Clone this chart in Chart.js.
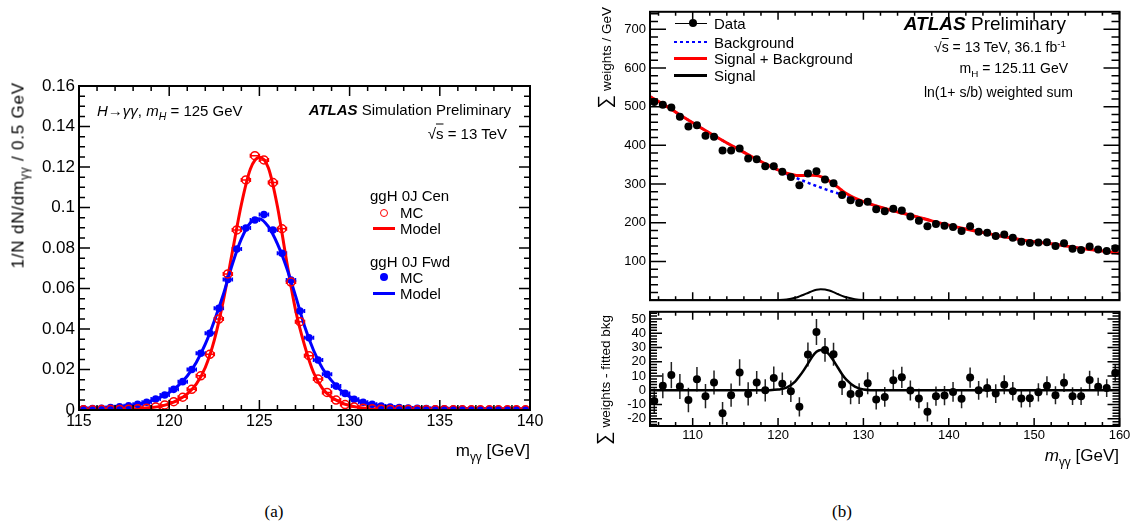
<!DOCTYPE html>
<html>
<head>
<meta charset="utf-8">
<title>H to diphoton mass shapes</title>
<script src="https://cdn.jsdelivr.net/npm/chart.js@4.4.1/dist/chart.umd.min.js"></script>
<style>
  body { margin: 0; background: #fff; }
  #page { position: relative; width: 1134px; height: 530px; overflow: hidden; font-family: "Liberation Sans", Arial, sans-serif; color: #000; }
  canvas { position: absolute; }
  .t { position: absolute; white-space: nowrap; line-height: 1; }
  .l { transform: translate(0, -50%); }
  .r { transform: translate(-100%, -50%); }
  .c { transform: translate(-50%, -50%); }
  .rot { transform-origin: 0 0; transform: rotate(-90deg) translate(-100%, -50%); }
  .sub { font-size: 70%; position: relative; top: 0.4em; }
  .sup { font-size: 70%; position: relative; top: -0.5em; }
  .ov { text-decoration: overline; }
  .sym { position: absolute; }
</style>
</head>
<body>
<div id="page">
  <canvas id="chartA" width="567" height="480" style="left:0;top:0"></canvas>
  <canvas id="chartTop" width="567" height="312" style="left:567px;top:0"></canvas>
  <canvas id="chartBottom" width="567" height="180" style="left:567px;top:300px"></canvas>

  <!-- panel (a) texts -->
  <div class="t l" style="left:97px;top:110px;font-size:15px"><i>H</i>&rarr;<i>&gamma;&gamma;</i>, <i>m<span class="sub">H</span></i> = 125 GeV</div>
  <div class="t r" style="left:511px;top:109px;font-size:15px"><b><i>ATLAS</i></b> Simulation Preliminary</div>
  <div class="t r" style="left:507px;top:133px;font-size:15px">&radic;<span class="ov">s</span> = 13 TeV</div>

  <div class="t l" style="left:370px;top:195px;font-size:15px">ggH 0J Cen</div>
  <div class="sym" style="left:379.5px;top:208.5px;width:6px;height:6px;border:1.5px solid #f00;border-radius:50%"></div>
  <div class="t l" style="left:400px;top:212px;font-size:15px">MC</div>
  <div class="sym" style="left:373px;top:226.5px;width:22px;height:3px;background:#f00"></div>
  <div class="t l" style="left:400px;top:228px;font-size:15px">Model</div>

  <div class="t l" style="left:370px;top:261px;font-size:15px">ggH 0J Fwd</div>
  <div class="sym" style="left:380px;top:273px;width:8px;height:8px;background:#00f;border-radius:50%"></div>
  <div class="t l" style="left:400px;top:277px;font-size:15px">MC</div>
  <div class="sym" style="left:373px;top:291.5px;width:22px;height:3px;background:#00f"></div>
  <div class="t l" style="left:400px;top:293px;font-size:15px">Model</div>

  <div class="t r" style="left:530px;top:450px;font-size:17px">m<span class="sub">&gamma;&gamma;</span> [GeV]</div>
  <div class="t rot" style="left:18px;top:82px;font-size:17px;letter-spacing:0.8px">1/N dN/dm<span class="sub">&gamma;&gamma;</span> / 0.5 GeV</div>

  <!-- panel (b) texts -->
  <div class="sym" style="left:675px;top:22.5px;width:32px;height:1.5px;background:#000"></div>
  <div class="sym" style="left:689px;top:19.3px;width:8px;height:8px;background:#000;border-radius:50%"></div>
  <div class="t l" style="left:714px;top:23px;font-size:15px">Data</div>
  <div class="sym" style="left:674px;top:40.5px;width:33px;height:2.5px;background:repeating-linear-gradient(to right,#00f 0 3px,transparent 3px 6px)"></div>
  <div class="t l" style="left:714px;top:41.5px;font-size:15px">Background</div>
  <div class="sym" style="left:674px;top:57px;width:33px;height:3px;background:#f00"></div>
  <div class="t l" style="left:714px;top:58px;font-size:15px">Signal + Background</div>
  <div class="sym" style="left:674px;top:74px;width:33px;height:2.5px;background:#000"></div>
  <div class="t l" style="left:714px;top:75px;font-size:15px">Signal</div>

  <div class="t r" style="left:1066px;top:23px;font-size:19px"><b><i>ATLAS</i></b> Preliminary</div>
  <div class="t r" style="left:1066px;top:47px;font-size:14px">&radic;<span class="ov">s</span> = 13 TeV, 36.1 fb<span class="sup">-1</span></div>
  <div class="t r" style="left:1068px;top:68px;font-size:14px">m<span class="sub">H</span> = 125.11 GeV</div>
  <div class="t r" style="left:1073px;top:92px;font-size:14px">ln(1+ s/b) weighted sum</div>

  <div class="t rot" style="left:604px;top:7px;font-size:13.5px"><span style="font-size:19px">&sum;</span> weights / GeV</div>
  <div class="t rot" style="left:603px;top:315px;font-size:13.5px"><span style="font-size:19px">&sum;</span> weights - fitted bkg</div>
  <div class="t r" style="left:1119px;top:455px;font-size:17px"><i>m</i><span class="sub">&gamma;&gamma;</span> [GeV]</div>

  <div class="t c" style="left:274px;top:511px;font-size:17px;font-family:'Liberation Serif',serif">(a)</div>
  <div class="t c" style="left:842px;top:511px;font-size:17px;font-family:'Liberation Serif',serif">(b)</div>
</div>

<script>
// ---- panel (a): normalised m_yy shapes in 0.5 GeV bins ----
const massBinsA = [
    115.25, 115.75, 116.25, 116.75, 117.25, 117.75, 118.25, 118.75, 119.25, 119.75,
    120.25, 120.75, 121.25, 121.75, 122.25, 122.75, 123.25, 123.75, 124.25, 124.75,
    125.25, 125.75, 126.25, 126.75, 127.25, 127.75, 128.25, 128.75, 129.25, 129.75,
    130.25, 130.75, 131.25, 131.75, 132.25, 132.75, 133.25, 133.75, 134.25, 134.75,
    135.25, 135.75, 136.25, 136.75, 137.25, 137.75, 138.25, 138.75, 139.25, 139.75,
]
const cenMC = [
    0.0001, 0.0001, 0.0002, 0.0002, 0.0003, 0.0004, 0.0006, 0.0009, 0.0015, 0.0025,
    0.0041, 0.0063, 0.0102, 0.0169, 0.0275, 0.0449, 0.0672, 0.0889, 0.1136, 0.1256,
    0.1235, 0.1123, 0.0895, 0.0632, 0.0436, 0.0268, 0.0153, 0.0087, 0.0049, 0.0027,
    0.0015, 0.0009, 0.0006, 0.0004, 0.0003, 0.0002, 0.0002, 0.0001, 0.0001, 0.0001,
    0.0001, 0.0001, 0.0001, 0.0001, 0.0001, 0.0001, 0.0001, 0.0001, 0.0001, 0.0001,
]
const fwdMC = [
    0.0006, 0.0007, 0.0009, 0.0012, 0.0016, 0.0021, 0.0028, 0.0038, 0.0054, 0.0074,
    0.0102, 0.014, 0.02, 0.028, 0.0379, 0.0502, 0.0645, 0.0795, 0.0899, 0.0938,
    0.0965, 0.0889, 0.0774, 0.0642, 0.0489, 0.0357, 0.0247, 0.0176, 0.0118, 0.0082,
    0.0053, 0.0038, 0.0028, 0.002, 0.0015, 0.0012, 0.001, 0.0008, 0.0007, 0.0006,
    0.0006, 0.0005, 0.0005, 0.0004, 0.0004, 0.0004, 0.0003, 0.0003, 0.0003, 0.0003,
]
const modelMassA = [
    115, 116, 117, 118, 119, 119.5, 120, 120.5, 121, 121.5, 122, 122.5, 123, 123.5, 124, 124.5,
    125, 125.5, 126, 126.5, 127, 127.5, 128, 128.5, 129, 129.5, 130, 130.5, 131, 132, 133, 134, 136, 138, 140,
]
const cenModel = [
    0.0001, 0.0002, 0.0003, 0.0005, 0.0012, 0.0018, 0.003, 0.005, 0.008, 0.0128, 0.021, 0.0345, 0.054, 0.078, 0.1015, 0.119,
    0.1248, 0.1195, 0.1005, 0.074, 0.0495, 0.032, 0.0185, 0.0105, 0.0063, 0.0038, 0.0022, 0.0013, 0.0008, 0.0004, 0.0003, 0.0002, 0.0001, 0.0001, 0.0001,
]
const fwdModel = [
    0.0005, 0.0008, 0.0013, 0.0023, 0.0045, 0.0062, 0.0086, 0.012, 0.0168, 0.0235, 0.0325, 0.044, 0.057, 0.072, 0.0845, 0.0925,
    0.0945, 0.0905, 0.082, 0.0705, 0.0565, 0.0415, 0.0295, 0.0205, 0.0145, 0.0098, 0.0066, 0.0046, 0.0032, 0.0018, 0.0011, 0.0008, 0.0005, 0.0004, 0.0003,
]
const xTicksA = [115, 120, 125, 130, 135, 140]
const yTicksA = [0, 0.02, 0.04, 0.06, 0.08, 0.1, 0.12, 0.14, 0.16]
const yLabelsA = ["0", "0.02", "0.04", "0.06", "0.08", "0.1", "0.12", "0.14", "0.16"]

// ---- panel (b): weighted data, 1 GeV bins ----
const massBinsB = [
    105.5, 106.5, 107.5, 108.5, 109.5, 110.5, 111.5, 112.5, 113.5, 114.5,
    115.5, 116.5, 117.5, 118.5, 119.5, 120.5, 121.5, 122.5, 123.5, 124.5,
    125.5, 126.5, 127.5, 128.5, 129.5, 130.5, 131.5, 132.5, 133.5, 134.5,
    135.5, 136.5, 137.5, 138.5, 139.5, 140.5, 141.5, 142.5, 143.5, 144.5,
    145.5, 146.5, 147.5, 148.5, 149.5, 150.5, 151.5, 152.5, 153.5, 154.5,
    155.5, 156.5, 157.5, 158.5, 159.5,
]
const dataB = [
    512, 505, 498, 474, 449, 452, 425, 422, 387, 387,
    392, 366, 364, 346, 346, 332, 318, 297, 327, 333,
    312, 302, 272, 258, 251, 254, 235, 230, 236, 232,
    216, 205, 191, 197, 192, 189, 179, 191, 177, 174,
    166, 170, 161, 151, 148, 149, 150, 140, 147, 133,
    130, 139, 131, 127, 134,
]
const residB = [
    -7.5, 3.2, 10.7, 2.7, -6.8, 7.7, -4.1, 5.5, -16, -3.4,
    12.5, -2.5, 5.5, 0, 8.7, 4.6, -0.7, -11.6, 25.1, 40.9,
    28.3, 25.3, 4.1, -2.5, -2.3, 5.0, -6.4, -4.6, 7.1, 9.1,
    -0.2, -5.7, -15.1, -4.1, -3.7, -1.1, -5.9, 8.9, 0, 1.6,
    -2.3, 3.9, -0.7, -5.7, -5.5, -1.4, 3.2, -3.4, 5.3, -4.1,
    -4.1, 7.3, 2.5, 1.6, 12.1,
]
const errB = [
    8.8, 8.8, 9.2, 8.7, 8.6, 8.6, 8.5, 8.4, 7.9, 8.2,
    9.3, 8.1, 8.0, 7.8, 8.0, 7.9, 7.5, 6.8, 8.4, 9.1,
    8.3, 8.1, 7.4, 7.3, 7.3, 7.7, 7.0, 7.0, 7.3, 7.4,
    7.0, 6.8, 6.8, 6.8, 6.8, 6.9, 6.6, 7.1, 6.6, 6.7,
    6.6, 6.7, 6.5, 6.3, 6.3, 6.4, 6.6, 6.3, 6.5, 6.2,
    6.2, 6.4, 6.3, 6.2, 6.1,
]
const curveMassB = [
    105, 107, 109, 111, 113, 115, 117, 119, 120, 121,
    122, 122.5, 123, 123.5, 124, 124.5, 125, 125.5, 126, 126.5, 127, 127.5, 128,
    129, 130, 132, 134, 136, 138, 140, 142, 144, 146, 148, 150, 152, 154, 156, 158, 160,
]
const bkgCurve = [
    526, 500, 472, 445, 419, 394, 370, 347, 336, 326,
    317, 312.5, 308, 303.5, 299, 295, 291, 287, 283, 279.5, 276, 272, 268,
    261, 254, 240, 228, 217, 205, 194, 184, 175, 166, 158, 151, 146, 139, 132.5, 127, 121,
]
const sbCurve = [
    526, 500, 472, 445, 419, 394, 370, 347, 336.5, 328,
    323, 322.3, 322, 322.2, 322.5, 322, 319.3, 314.6, 308, 300.3, 292, 283.3, 275.5,
    263.6, 254.6, 240, 228, 217, 205, 194, 184, 175, 166, 158, 151, 146, 139, 132.5, 127, 121,
]
const sigCurve = [
    0, 0, 0, 0, 0, 0, 0, 0.1, 0.5, 1.9,
    6.1, 9.8, 14, 18.7, 23.5, 27, 28.3, 27.6, 25, 20.8, 16, 11.3, 7.5,
    2.6, 0.6, 0, 0, 0, 0, 0, 0, 0, 0, 0, 0, 0, 0, 0, 0, 0,
]
const xTicksB = [110, 120, 130, 140, 150, 160]
const yTicksTop = [100, 200, 300, 400, 500, 600, 700]
const yTicksBottom = [-20, -10, 0, 10, 20, 30, 40, 50]

const FONT = "Liberation Sans"
const RED = "#ff0000"
const BLUE = "#0000ff"

function pts(xs, ys) {
    return xs.map((x, i) => ({ x: x, y: ys[i] }))
}

// ROOT style frame with ticks pointing inwards on all four sides
const rootFrame = {
    id: "rootFrame",
    afterDraw(chart, args, o) {
        const ctx = chart.ctx
        const a = chart.chartArea
        const xs = chart.scales.x
        const ys = chart.scales.y
        const isMajor = (v, step) => Math.abs(v / step - Math.round(v / step)) < 1e-6
        ctx.save()
        ctx.strokeStyle = "#000"
        ctx.lineWidth = 1.5
        ctx.beginPath()
        for (let i = Math.ceil(xs.min / o.xMinor - 1e-6); i * o.xMinor <= xs.max + 1e-6; i++) {
            const v = i * o.xMinor
            const len = isMajor(v, o.xMajor) ? o.xMajorLen : o.xMinorLen
            const p = xs.getPixelForValue(v)
            ctx.moveTo(p, a.bottom)
            ctx.lineTo(p, a.bottom - len)
            ctx.moveTo(p, a.top)
            ctx.lineTo(p, a.top + len)
        }
        for (let i = Math.ceil(ys.min / o.yMinor - 1e-6); i * o.yMinor <= ys.max + 1e-6; i++) {
            const v = i * o.yMinor
            const len = isMajor(v, o.yMajor) ? o.yMajorLen : o.yMinorLen
            const p = ys.getPixelForValue(v)
            ctx.moveTo(a.left, p)
            ctx.lineTo(a.left + len, p)
            ctx.moveTo(a.right, p)
            ctx.lineTo(a.right - len, p)
        }
        ctx.stroke()
        ctx.lineWidth = 2
        ctx.strokeRect(a.left, a.top, a.right - a.left, a.bottom - a.top)
        ctx.restore()
    },
}

// horizontal (bin width) and vertical error bars
const errorBars = {
    id: "errorBars",
    beforeDatasetsDraw(chart) {
        const ctx = chart.ctx
        const a = chart.chartArea
        const xs = chart.scales.x
        const ys = chart.scales.y
        ctx.save()
        ctx.beginPath()
        ctx.rect(a.left, a.top, a.right - a.left, a.bottom - a.top)
        ctx.clip()
        chart.data.datasets.forEach((ds) => {
            if (!ds.errX && !ds.errY) return
            ctx.strokeStyle = ds.errColor || ds.borderColor
            ctx.lineWidth = 1.5
            ds.data.forEach((p, i) => {
                const px = xs.getPixelForValue(p.x)
                const py = ys.getPixelForValue(p.y)
                ctx.beginPath()
                if (ds.errX) {
                    const x0 = xs.getPixelForValue(p.x - ds.errX)
                    const x1 = xs.getPixelForValue(p.x + ds.errX)
                    ctx.moveTo(x0, py)
                    ctx.lineTo(x1, py)
                    ctx.moveTo(x0, py - 2)
                    ctx.lineTo(x0, py + 2)
                    ctx.moveTo(x1, py - 2)
                    ctx.lineTo(x1, py + 2)
                }
                if (ds.errY) {
                    ctx.moveTo(px, ys.getPixelForValue(p.y - ds.errY[i]))
                    ctx.lineTo(px, ys.getPixelForValue(p.y + ds.errY[i]))
                }
                ctx.stroke()
            })
        })
        ctx.restore()
    },
}

function axis(min, max, ticks, opts) {
    return {
        type: "linear",
        min: min,
        max: max,
        display: opts.display !== false,
        grid: { display: false, drawTicks: false },
        border: { display: false },
        afterBuildTicks: (s) => {
            s.ticks = ticks.map((v) => ({ value: v }))
        },
        afterFit: (s) => {
            if (opts.width) s.width = opts.width
            if (opts.height) s.height = opts.height
        },
        ticks: {
            autoSkip: false,
            maxRotation: 0,
            color: "#000",
            padding: opts.padding,
            font: { family: FONT, size: opts.size },
            callback: opts.labels ? (v, i) => opts.labels[i] : (v) => String(v),
        },
    }
}

const baseOptions = {
    responsive: false,
    animation: false,
    events: [],
}

// ---- chart (a) ----
new Chart(document.getElementById("chartA"), {
    type: "scatter",
    data: {
        datasets: [
            {
                data: pts(massBinsA, cenMC),
                borderColor: RED,
                backgroundColor: "rgba(0,0,0,0)",
                pointRadius: 4,
                pointBorderWidth: 1.5,
                errX: 0.25,
            },
            {
                data: pts(massBinsA, fwdMC),
                borderColor: BLUE,
                backgroundColor: BLUE,
                pointRadius: 3.8,
                pointBorderWidth: 0,
                errX: 0.25,
            },
            {
                data: pts(modelMassA, fwdModel),
                showLine: true,
                borderColor: BLUE,
                borderWidth: 3,
                pointRadius: 0,
                cubicInterpolationMode: "monotone",
            },
            {
                data: pts(modelMassA, cenModel),
                showLine: true,
                borderColor: RED,
                borderWidth: 3,
                pointRadius: 0,
                cubicInterpolationMode: "monotone",
            },
        ],
    },
    options: {
        ...baseOptions,
        layout: { padding: { top: 86, right: 37, left: 0, bottom: 0 } },
        plugins: {
            legend: { display: false },
            tooltip: { enabled: false },
            rootFrame: { xMajor: 5, xMinor: 1, xMajorLen: 10, xMinorLen: 5, yMajor: 0.02, yMinor: 0.005, yMajorLen: 11, yMinorLen: 6 },
        },
        scales: {
            x: axis(115, 140, xTicksA, { height: 70, padding: 2, size: 16 }),
            y: axis(0, 0.16, yTicksA, { width: 79, padding: 4, size: 17, labels: yLabelsA }),
        },
    },
    plugins: [rootFrame, errorBars],
})

// ---- chart (b) upper pad ----
new Chart(document.getElementById("chartTop"), {
    type: "scatter",
    data: {
        datasets: [
            {
                data: pts(massBinsB, dataB),
                borderColor: "#000",
                backgroundColor: "#000",
                pointRadius: 4,
                pointBorderWidth: 0,
            },
            {
                data: pts(curveMassB, sigCurve),
                showLine: true,
                borderColor: "#000",
                borderWidth: 2,
                pointRadius: 0,
                cubicInterpolationMode: "monotone",
            },
            {
                data: pts(curveMassB, sbCurve),
                showLine: true,
                borderColor: RED,
                borderWidth: 3,
                pointRadius: 0,
                cubicInterpolationMode: "monotone",
            },
            {
                data: pts(curveMassB, bkgCurve),
                showLine: true,
                borderColor: BLUE,
                borderWidth: 2.5,
                borderDash: [3, 3],
                pointRadius: 0,
                cubicInterpolationMode: "monotone",
            },
        ],
    },
    options: {
        ...baseOptions,
        layout: { padding: { top: 4, right: 14.5, left: 0, bottom: 3.3 } },
        plugins: {
            legend: { display: false },
            tooltip: { enabled: false },
            rootFrame: { xMajor: 10, xMinor: 2, xMajorLen: 8, xMinorLen: 4, yMajor: 100, yMinor: 20, yMajorLen: 16, yMinorLen: 8 },
        },
        scales: {
            x: axis(105, 160, xTicksB, { display: false, size: 13 }),
            y: axis(0, 745, yTicksTop, { width: 83, padding: 4, size: 13 }),
        },
    },
    plugins: [rootFrame, errorBars],
})

// ---- chart (b) lower pad: data minus fitted background ----
new Chart(document.getElementById("chartBottom"), {
    type: "scatter",
    data: {
        datasets: [
            {
                data: pts(massBinsB, residB),
                borderColor: "#000",
                backgroundColor: "#000",
                errColor: "#222",
                pointRadius: 4,
                pointBorderWidth: 0,
                errY: errB,
            },
            {
                data: pts(curveMassB, sigCurve),
                showLine: true,
                borderColor: "#000",
                borderWidth: 2.5,
                pointRadius: 0,
                cubicInterpolationMode: "monotone",
            },
        ],
    },
    options: {
        ...baseOptions,
        layout: { padding: { top: 9, right: 14.5, left: 0, bottom: 0 } },
        plugins: {
            legend: { display: false },
            tooltip: { enabled: false },
            rootFrame: { xMajor: 10, xMinor: 2, xMajorLen: 8, xMinorLen: 4, yMajor: 10, yMinor: 2, yMajorLen: 12, yMinorLen: 7 },
        },
        scales: {
            x: axis(105, 160, xTicksB, { height: 54, padding: 2, size: 13 }),
            y: axis(-25, 55, yTicksBottom, { width: 83, padding: 4, size: 13 }),
        },
    },
    plugins: [rootFrame, errorBars],
})
</script>
</body>
</html>
